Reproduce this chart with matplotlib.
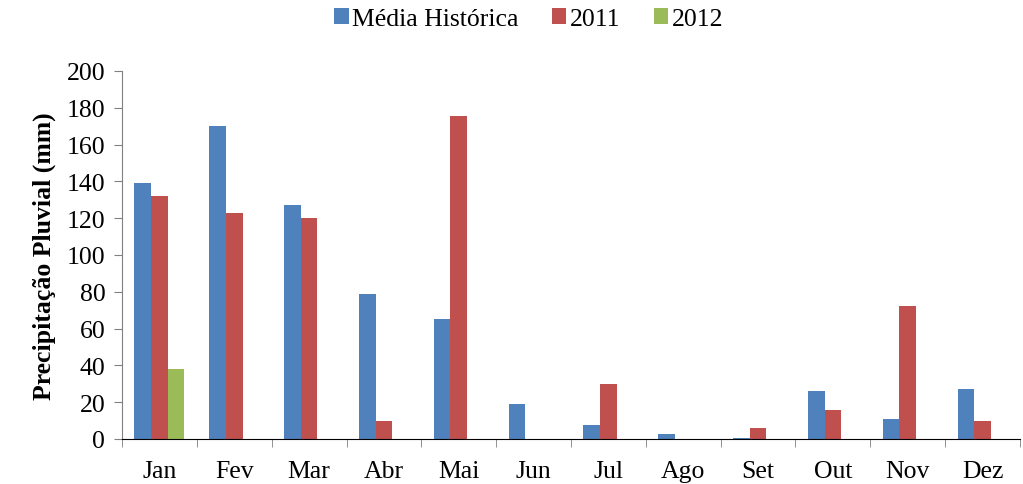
import numpy as np
import matplotlib.pyplot as plt

plt.rcParams['font.family'] = ['Liberation Serif', 'DejaVu Serif']

# Data
meses = ["Jan", "Fev", "Mar", "Abr", "Mai", "Jun", "Jul", "Ago", "Set", "Out", "Nov", "Dez"]
media_historica = [139, 170, 127, 79, 65, 19, 7.5, 2.5, 0.5, 26, 11, 27]
chuva_2011 = [132, 123, 120, 10, 175.5, 0, 30, 0, 6, 16, 72.5, 10]
chuva_2012 = [38, 0, 0, 0, 0, 0, 0, 0, 0, 0, 0, 0]

series = [
    ("Média Histórica", media_historica, "#4F81BD"),
    ("2011", chuva_2011, "#C0504D"),
    ("2012", chuva_2012, "#9BBB59"),
]

fs = 18.5

fig = plt.figure(figsize=(10.23, 4.85), dpi=100)
ax = fig.add_axes([122 / 1023, 1 - 440 / 485, 898 / 1023, 368 / 485])

x = np.arange(len(meses))
w = 1 / 4.5
for i, (nome, vals, cor) in enumerate(series):
    ax.bar(x + (i - 1) * w, vals, width=w, color=cor, label=nome, zorder=2)

ax.set_xlim(-0.5, len(meses) - 0.5)
ax.set_ylim(0, 200)
ax.set_yticks(range(0, 201, 20))
ax.set_xticks(x)
ax.set_xticklabels(meses)
ax.set_xticks(np.arange(-0.5, len(meses), 1), minor=True)
ax.tick_params(axis="x", which="major", length=0, labelsize=fs, pad=15)
ax.tick_params(axis="x", which="minor", length=6, color="#808080", direction="out")
ax.tick_params(axis="y", length=6, color="#808080", labelsize=fs, direction="out", pad=6)

ax.spines["top"].set_visible(False)
ax.spines["right"].set_visible(False)
ax.spines["left"].set_color("#808080")
ax.spines["bottom"].set_color("black")

ax.set_ylabel("Precipitação Pluvial (mm)", fontsize=fs, fontweight="bold", labelpad=8)

ax.legend(loc="center", bbox_to_anchor=(529 / 1023, (485 - 20) / 485), bbox_transform=fig.transFigure,
          ncol=3, frameon=False, fontsize=fs, handlelength=0.55, handleheight=0.55,
          handletextpad=0.15, columnspacing=1.3, borderaxespad=0, borderpad=0)

fig.savefig("out.png", dpi=100)
